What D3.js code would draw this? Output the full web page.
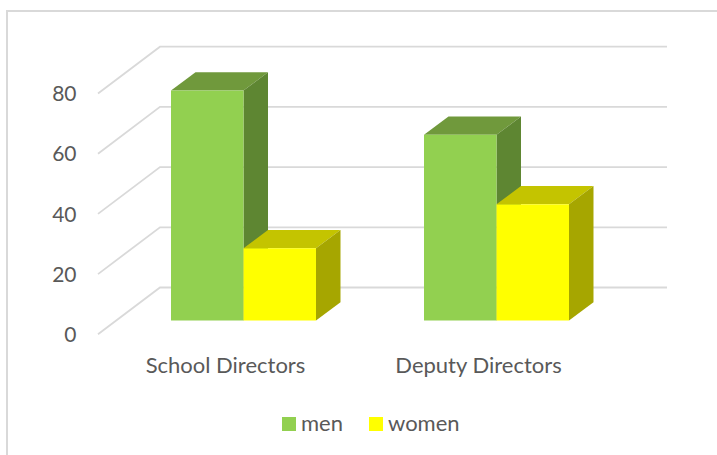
<!DOCTYPE html>
<html>
<head>
<meta charset="utf-8">
<script src="https://cdn.jsdelivr.net/npm/d3@7"></script>
<style>
  html, body { margin: 0; padding: 0; background: #fff; }
  svg { display: block; }
  text { font-family: Lato, "Open Sans", sans-serif; fill: #595959; }
</style>
</head>
<body>
<svg width="717" height="455"></svg>
<script>
var categories = ["School Directors", "Deputy Directors"];
var seriesNames = ["men", "women"];
var men = [76.4, 61.7];
var women = [24, 38.6];
var ticks = [0, 20, 40, 60, 80];

var svg = d3.select("svg");

var frontColor = { men: "#92d050", women: "#ffff00" };
var topColor = { men: "#70993c", women: "#c4c400" };
var sideColor = { men: "#5e8632", women: "#a6a600" };
var gridColor = "#d9d9d9";

//chart frame, runs off the right and bottom of the picture
svg.append("path")
  .attr("d", "M717,11H7V455")
  .attr("fill", "none")
  .attr("stroke", "#d9d9d9")
  .attr("stroke-width", 2);

//y scale for the bar fronts, the walls sit at fixed offsets from it
var y = d3.scaleLinear().domain([0, 80]).range([320.5, 79.7]);
var wallFront = { x: 98, dy: 13.8 };
var wallBack = { x: 160, dy: -33 };
var wallRight = 667;

var x0 = d3.scaleBand().domain(categories).range([117, 623]);
var x1 = d3.scaleBand().domain(seriesNames).range([0, x0.bandwidth()]).paddingInner(0).paddingOuter(0.745);

var depth = { x: 24.5, y: -18.3 };

//gridlines, diagonal on the side wall then flat on the back wall
svg.append("g")
  .selectAll("path")
  .data(ticks)
  .enter().append("path")
  .attr("d", function(d) {
    return "M" + wallFront.x + "," + (y(d) + wallFront.dy) +
      "L" + wallBack.x + "," + (y(d) + wallBack.dy) +
      "H" + wallRight;
  })
  .attr("fill", "none")
  .attr("stroke", gridColor)
  .attr("stroke-width", 1.8);

//tick labels
var yAxis = svg.append("g")
  .attr("transform", "translate(76.5," + (wallFront.dy + 0.4) + ")")
  .call(d3.axisLeft(y).tickValues(ticks).tickSize(0).tickPadding(0));
yAxis.select(".domain").remove();
yAxis.selectAll("text")
  .style("font-size", "21px")
  .style("fill", "#595959");

//bars
var rows = [];
categories.forEach(function(c, i) {
  rows.push({ category: c, series: "men", value: men[i] });
  rows.push({ category: c, series: "women", value: women[i] });
});

var bar = svg.append("g")
  .selectAll("g")
  .data(rows)
  .enter().append("g");

function poly(points) {
  return points.map(function(p) { return p.join(","); }).join(" ");
}

bar.append("polygon")
  .attr("points", function(d) {
    var l = x0(d.category) + x1(d.series), r = l + x1.bandwidth(), t = y(d.value);
    return poly([[l, t], [l + depth.x, t + depth.y], [r + depth.x, t + depth.y], [r, t]]);
  })
  .attr("fill", function(d) { return topColor[d.series]; });

bar.append("polygon")
  .attr("points", function(d) {
    var r = x0(d.category) + x1(d.series) + x1.bandwidth(), t = y(d.value), b = y(0);
    return poly([[r, t], [r + depth.x, t + depth.y], [r + depth.x, b + depth.y], [r, b]]);
  })
  .attr("fill", function(d) { return sideColor[d.series]; });

bar.append("rect")
  .attr("x", function(d) { return x0(d.category) + x1(d.series); })
  .attr("y", function(d) { return y(d.value); })
  .attr("width", x1.bandwidth())
  .attr("height", function(d) { return y(0) - y(d.value); })
  .attr("fill", function(d) { return frontColor[d.series]; });

//category labels
svg.append("g")
  .selectAll("text")
  .data(categories)
  .enter().append("text")
  .attr("x", function(d) { return x0(d) + x0.bandwidth() / 2 - 18; })
  .attr("y", 373)
  .attr("text-anchor", "middle")
  .style("font-size", "22px")
  .text(function(d) { return d; });

//legend
var legendX = { men: 282, women: 369 };
var legend = svg.append("g")
  .selectAll("g")
  .data(seriesNames)
  .enter().append("g")
  .attr("transform", function(d) { return "translate(" + legendX[d] + ",417)"; });

legend.append("rect")
  .attr("width", 14)
  .attr("height", 14)
  .attr("fill", function(d) { return frontColor[d]; });

legend.append("text")
  .attr("x", 19)
  .attr("y", 14)
  .style("font-size", "22px")
  .text(function(d) { return d; });
</script>
</body>
</html>
